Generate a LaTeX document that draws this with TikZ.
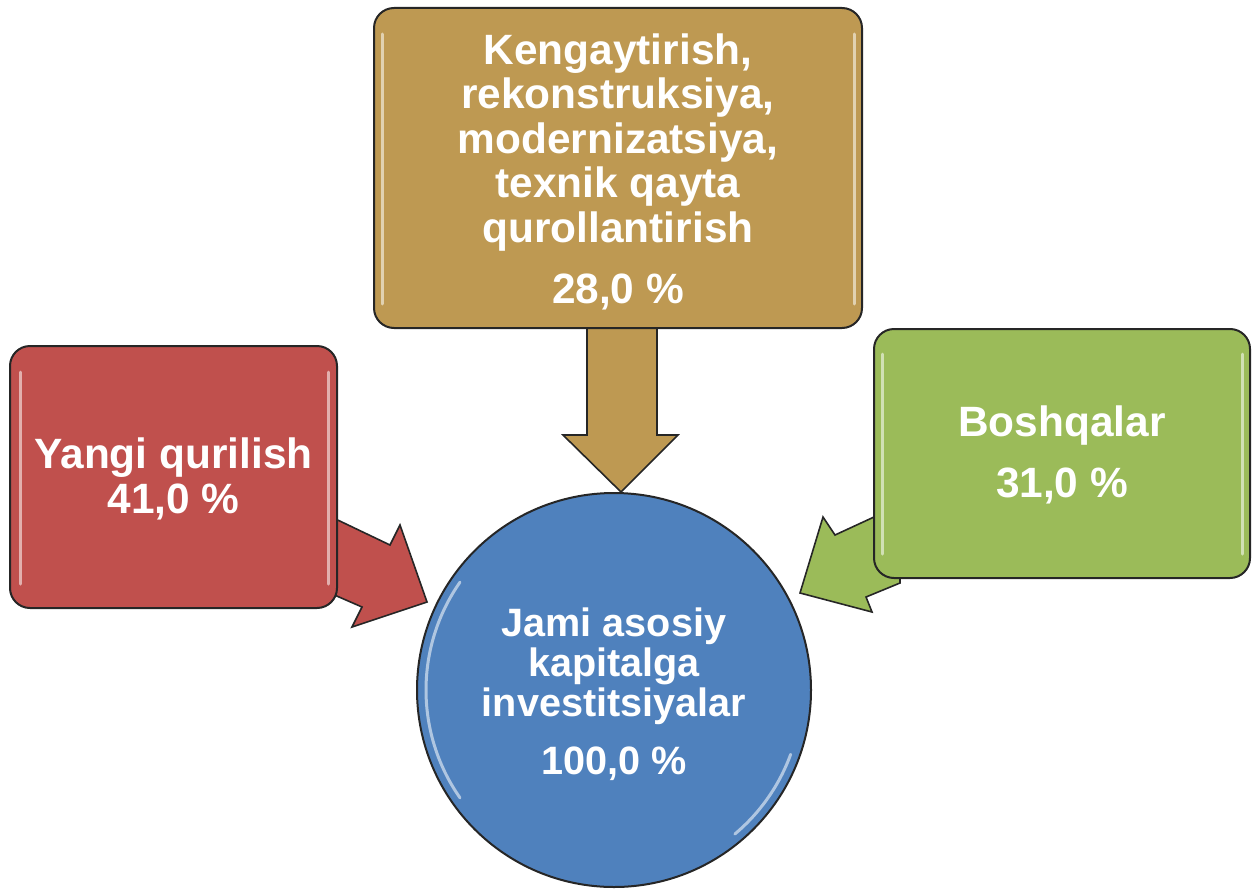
\documentclass[tikz,border=0pt]{standalone}
\usepackage{fontspec}
\setmainfont{Liberation Sans}
\definecolor{cred}{RGB}{192,80,77}
\definecolor{cgold}{RGB}{190,153,82}
\definecolor{cgreen}{RGB}{155,187,89}
\definecolor{cblue}{RGB}{79,129,189}
\tikzset{
  boxstyle/.style={draw=black!85, line width=1pt, rounded corners=10pt, inner sep=0pt},
  labelstyle/.style={text=white, align=center, inner sep=0pt, font=\fontsize{21.2}{22.2}\selectfont\bfseries},
  arrowstyle/.style={draw=black!85, line width=0.8pt, line join=miter},
  glossline/.style={line width=1.5pt, line cap=round, white, opacity=0.55},
}
\begin{document}
\begin{tikzpicture}[x=0.5pt,y=-0.5pt]
\useasboundingbox (0,0) rectangle (1256,888);

% block arrows (drawn first, their tails are hidden under the boxes)
\draw[arrowstyle, fill=cgold] (587,300) -- (587,435) -- (563,435) -- (621,492)
   -- (678,435) -- (657,435) -- (657,300) -- cycle;
\draw[arrowstyle, fill=cred] (300,502) -- (390,545) -- (400,525) -- (427,602)
   -- (352,627) -- (362,607) -- (300,580) -- cycle;
\draw[arrowstyle, fill=cgreen] (900,505) -- (835,535) -- (823,517) -- (800,593)
   -- (872,612) -- (866,597) -- (900,583) -- cycle;

% boxes
\node[boxstyle, fill=cgold, minimum width=244pt, minimum height=160pt] (top) at (618,168) {};
\node[boxstyle, fill=cred, minimum width=163.5pt, minimum height=131pt] (left) at (173.5,477) {};
\node[boxstyle, fill=cgreen, minimum width=188pt, minimum height=124.5pt] (right) at (1062,453.5) {};
\node[draw=black!85, line width=1pt, circle, fill=cblue, minimum size=197pt, inner sep=0pt] (center) at (614,690) {};

% texts
\node[labelstyle] (toptext) at (618,172) {Kengaytirish,\\rekonstruksiya,\\modernizatsiya,\\texnik qayta\\qurollantirish\\[8.5pt]28,0 \%};
\node[labelstyle] (lefttext) at (173.5,479) {Yangi qurilish\\41,0 \%};
\node[labelstyle] (righttext) at (1062,455) {Boshqalar\\[8.5pt]31,0 \%};
\node[labelstyle, font=\fontsize{19.8}{20}\selectfont\bfseries] (centertext) at (614,694)
  {Jami asosiy\\kapitalga\\investitsiyalar\\[9pt]100,0 \%};

% gloss highlights
\draw[glossline] (20,372) -- (20,584);
\draw[glossline] (328,372) -- (328,584);
\draw[glossline] (382,34) -- (382,304);
\draw[glossline] (854,34) -- (854,304);
\draw[glossline] (882,354) -- (882,554);
\draw[glossline] (1242,354) -- (1242,554);
\draw[glossline] (center.center) ++(145:188) arc[start angle=145, end angle=215, radius=188];
\draw[glossline] (center.center) ++(20:188) arc[start angle=20, end angle=50, radius=188];
\end{tikzpicture}
\end{document}
